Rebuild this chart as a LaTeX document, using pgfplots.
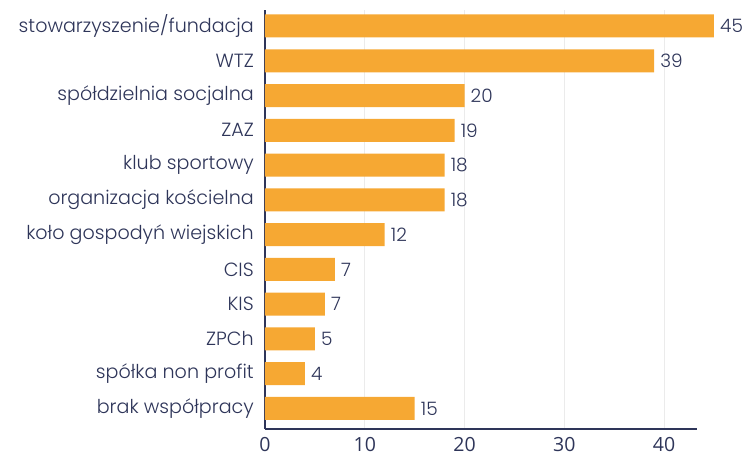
\documentclass[border=0pt]{standalone}
\usepackage{pgfplots}
\pgfplotsset{compat=1.18}
\usepackage{pgfplotstable}
\usepackage{fontspec}
\setmainfont{Poppins Light}
\newfontfamily\tickfont{Open Sans}
\definecolor{barc}{HTML}{F6A833}
\definecolor{txt}{HTML}{2E3559}
\definecolor{gridc}{HTML}{EBEBEB}
\pgfplotstableread{
i v lab
11 45 45
10 39 39
9 20 20
8 19 19
7 18 18
6 18 18
5 12 12
4 7 7
3 6 7
2 5 5
1 4 4
0 15 15
}\datatab
\begin{document}
\begin{tikzpicture}
\useasboundingbox (0,0) rectangle (748pt,455pt);
\begin{axis}[
  at={(265pt,26pt)}, anchor=south west,
  scale only axis, width=432pt, height=419pt,
  xmin=0, xmax=43.3, ymin=-0.59, ymax=11.46,
  xbar, bar width=23pt, clip=false,
  axis x line*=bottom, axis y line*=left,
  axis line style={txt, line width=2pt, -},
  xtick={0,10,20,30,40},
  major tick length=0pt, tick style={draw=none},
  xmajorgrids, grid style={gridc, line width=0.9pt},
  ytick={0,...,11},
  yticklabels={brak współpracy, spółka non profit, ZPCh, KIS, CIS, koło gospodyń wiejskich, organizacja kościelna, klub sportowy, ZAZ, spółdzielnia socjalna, WTZ, stowarzyszenie/fundacja},
  yticklabel style={font=\fontsize{19.1}{21}\selectfont, text=txt, inner sep=0pt, xshift=-11pt},
  xticklabel style={font=\tickfont\fontsize{19.5}{21}\selectfont, text=txt, inner sep=0pt, yshift=-8pt},
  /pgf/number format/assume math mode=true,
  point meta=explicit symbolic,
  nodes near coords,
  nodes near coords style={font=\fontsize{18.5}{20}\selectfont, text=txt, anchor=west, inner sep=0pt, xshift=6pt},
]
\addplot[fill=barc, draw=none] table[x=v, y=i, meta=lab] {\datatab};
\end{axis}
\end{tikzpicture}
\end{document}
